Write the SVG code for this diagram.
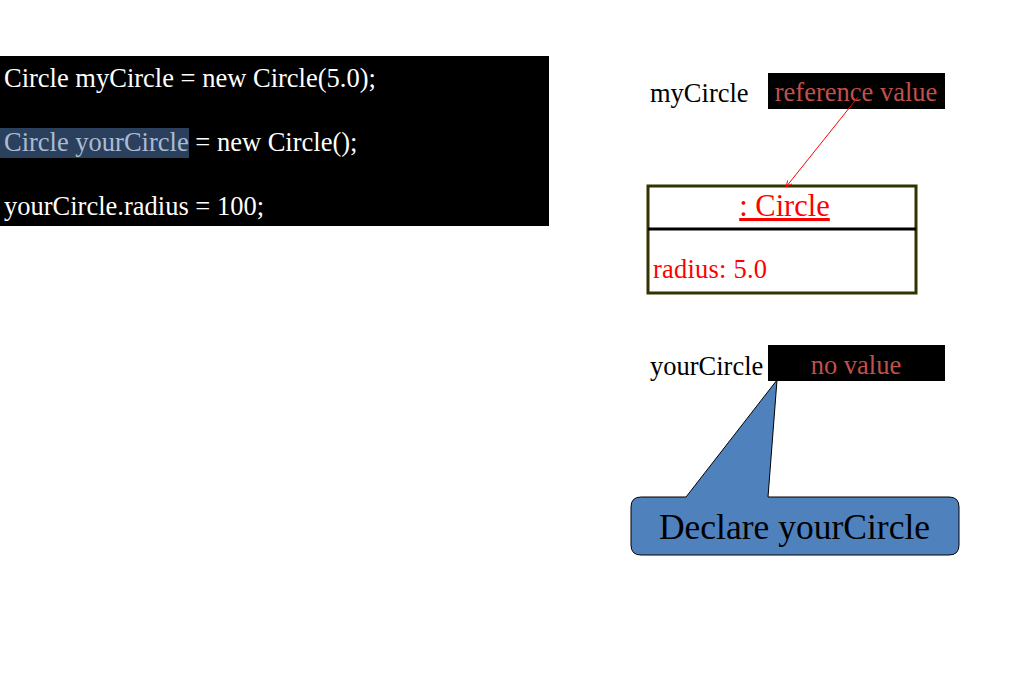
<svg xmlns="http://www.w3.org/2000/svg" width="1020" height="680" viewBox="0 0 1020 680">
<style>
text{font-family:"Liberation Serif","Times New Roman",serif;}
.code{font-size:26.5px;fill:#ffffff;}
.lbl{font-size:26.5px;fill:#000000;}
.val{font-size:26.5px;fill:#c0504d;}
.red{fill:#ff0000;}
</style>
<defs>
<marker id="arr" viewBox="0 0 10 10" refX="9" refY="5" markerWidth="7" markerHeight="7" orient="auto">
<path d="M0,1 L9,5 L0,9" fill="none" stroke="#ff0000" stroke-width="1.2"/>
</marker>
</defs>
<rect width="1020" height="680" fill="#ffffff"/>
<g id="code">
<rect x="0" y="56" width="549" height="170" fill="#000000"/>
<rect x="0" y="128" width="189" height="30" fill="#2b405c"/>
<text class="code" x="4" y="87">Circle myCircle = new Circle(5.0);</text>
<text class="code" x="4" y="151"><tspan fill="#a9bcd4">Circle yourCircle</tspan> = new Circle();</text>
<text class="code" x="4" y="215">yourCircle.radius = 100;</text>
</g>
<g id="myCircle">
<text class="lbl" x="650" y="102">myCircle</text>
<rect x="768" y="73" width="177" height="36" fill="#000000"/>
<text class="val" x="856" y="101" text-anchor="middle">reference value</text>
</g>
<g id="circleObject">
<rect x="648" y="186" width="268" height="107" fill="#ffffff" stroke="#333300" stroke-width="3"/>
<line x1="648" y1="229" x2="916" y2="229" stroke="#000000" stroke-width="3"/>
<text class="red" x="784.5" y="216" font-size="30.5" text-anchor="middle" text-decoration="underline">: Circle</text>
<text class="red" x="653" y="278" font-size="26.5" textLength="114">radius: 5.0</text>
</g>
<g id="yourCircle">
<text class="lbl" x="650" y="375">yourCircle</text>
<rect x="768" y="345" width="177" height="36" fill="#000000"/>
<text class="val" x="856" y="374" text-anchor="middle">no value</text>
</g>
<g id="callout">
<path d="M641,497 L686,497 L777,380 L768,497 L949,497 Q959,497 959,507 L959,545 Q959,555 949,555 L641,555 Q631,555 631,545 L631,507 Q631,497 641,497 Z" fill="#4f81bd" stroke="#000000" stroke-width="1"/>
<text x="794.5" y="539" font-size="35.5" text-anchor="middle" fill="#000000">Declare yourCircle</text>
</g>
<g id="connectors">
<line x1="858" y1="97" x2="786" y2="187" stroke="#ff0000" stroke-width="1" marker-end="url(#arr)"/>
</g>
</svg>
